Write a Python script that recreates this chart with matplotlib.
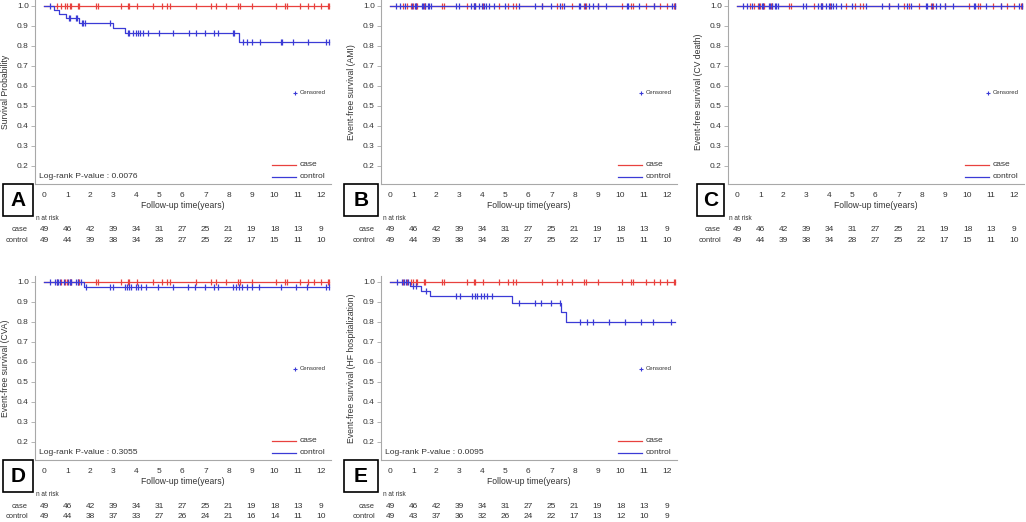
import numpy as np
import matplotlib
matplotlib.use("Agg")
import matplotlib.pyplot as plt
from matplotlib.patches import Rectangle
from matplotlib.transforms import blended_transform_factory

plt.rcParams['font.family'] = ['Liberation Sans', 'DejaVu Sans']

W, H = 1026, 522
RED = '#E8413E'
BLUE = '#3B3BD6'
SPINE = '#A8A8A8'
TXT = '#333333'

# ---- data ----
years = list(range(13))
case_risk = [49, 46, 42, 39, 34, 31, 27, 25, 21, 19, 18, 13, 9]
ctrl_risk_abc = [49, 44, 39, 38, 34, 28, 27, 25, 22, 17, 15, 11, 10]
ctrl_risk_d = [49, 44, 38, 37, 33, 27, 26, 24, 21, 16, 14, 11, 10]
ctrl_risk_e = [49, 43, 37, 36, 32, 26, 24, 22, 17, 13, 12, 10, 9]

case_cens = [0.55, 0.72, 0.9, 1.0, 1.1, 1.17, 1.45, 1.53, 2.25, 2.33, 3.35, 3.62,
             3.67, 4.02, 4.73, 5.11, 5.33, 5.44, 6.6, 7.25, 7.47, 7.88, 8.43, 8.48,
             9.01, 10.05, 10.47, 10.56, 11.1, 11.47, 11.73, 12.0, 12.3, 12.36]

# A: all-cause survival
ctrl_evt_a = [0.41, 0.64, 0.93, 1.52, 2.98, 3.5, 8.47]
ctrl_surv_a = [0.98, 0.959, 0.938, 0.915, 0.89, 0.866, 0.822]
ctrl_cens_a = [0.23, 1.07, 1.14, 1.36, 1.42, 1.62, 1.7, 1.77, 2.87, 3.62, 3.68,
               3.85, 4.0, 4.06, 4.17, 4.3, 4.5, 5.0, 5.6, 6.28, 6.57, 7.0, 7.36,
               7.55, 8.18, 8.24, 8.62, 8.8, 9.02, 9.35, 10.27, 10.33, 10.8, 11.45,
               12.24, 12.35]

# B, C: no events in control
ctrl_cens_bc = [0.23, 0.41, 0.64, 0.93, 1.07, 1.14, 1.36, 1.42, 1.52, 1.62, 1.7,
                1.77, 2.87, 2.98, 3.5, 3.62, 3.68, 3.85, 4.0, 4.06, 4.17, 4.3, 4.5,
                5.0, 5.6, 6.28, 6.57, 7.0, 7.36, 7.55, 8.18, 8.24, 8.47, 8.62, 8.8,
                9.02, 9.35, 10.27, 10.33, 10.8, 11.45, 12.24, 12.35]

# D: CVA
ctrl_evt_d = [1.74]
ctrl_surv_d = [0.975]
ctrl_cens_d = [0.23, 0.45, 0.55, 0.62, 0.69, 0.88, 1.03, 1.1, 1.17, 1.36, 1.46, 1.6,
               1.82, 2.85, 2.98, 3.5, 3.6, 3.67, 3.78, 3.99, 4.09, 4.2, 4.43, 4.94,
               5.58, 6.24, 6.53, 6.97, 7.38, 7.53, 8.18, 8.32, 8.47, 8.6, 8.82, 9.04,
               9.34, 10.27, 10.92, 11.42, 12.22, 12.36]

# E: HF hospitalization
ctrl_evt_e = [0.86, 1.35, 1.71, 5.29, 7.4, 7.62]
ctrl_surv_e = [0.979, 0.956, 0.932, 0.894, 0.851, 0.801]
ctrl_cens_e = [0.29, 0.52, 0.62, 0.69, 0.76, 0.98, 1.12, 1.56, 2.86, 3.04, 3.54,
               3.67, 3.76, 3.93, 4.06, 4.22, 4.44, 5.6, 6.27, 6.56, 6.98, 7.35,
               8.22, 8.54, 8.8, 9.5, 10.2, 10.9, 11.4, 12.18]

END = 12.36


def fx(x):
    return x / W


def fy(y):
    return 1 - y / H


def km(ax, evt, surv, cens, color):
    xs = [0.0] + list(evt) + [END]
    ys = [1.0] + list(surv) + [surv[-1] if surv else 1.0]
    ax.step(xs, ys, where='post', color=color, lw=0.9)
    idx = np.searchsorted(np.array(evt), np.array(cens), side='right')
    cy = np.array([1.0] + list(surv))[idx]
    ax.plot(cens, cy, ls='none', marker='|', ms=4, mew=0.9, color=color)


fig = plt.figure(figsize=(W / 100, H / 100), dpi=100)

# (left px, top px, letter, box left, box right, ylabel, curves, pval, ctrl risk, table label right)
panels = [
    (35, 0, 'A', 3, 33, 'Survival Probability', (ctrl_evt_a, ctrl_surv_a, ctrl_cens_a),
     'Log-rank P-value : 0.0076', ctrl_risk_abc, 28),
    (381, 0, 'B', 344, 378, 'Event-free survival (AMI)', ([], [], ctrl_cens_bc),
     None, ctrl_risk_abc, 375),
    (728, 0, 'C', 697, 724, 'Event-free survival (CV death)', ([], [], ctrl_cens_bc),
     None, ctrl_risk_abc, 721),
    (35, 276, 'D', 3, 33, 'Event-free survival (CVA)', (ctrl_evt_d, ctrl_surv_d, ctrl_cens_d),
     'Log-rank P-value : 0.3055', ctrl_risk_d, 28),
    (381, 276, 'E', 344, 378, 'Event-free survival (HF hospitalization)',
     (ctrl_evt_e, ctrl_surv_e, ctrl_cens_e), 'Log-rank P-value : 0.0095', ctrl_risk_e, 375),
]

AW, AH = 296, 184

for (left, top, letter, bl, br, ylab, ctrl, pval, crisk, lab_r) in panels:
    ax = fig.add_axes([fx(left), fy(top + AH), AW / W, AH / H])
    ax.set_xlim(-0.4, 12.45)
    ax.set_ylim(0.11, 1.03)
    for s in ['top', 'right']:
        ax.spines[s].set_visible(False)
    for s in ['left', 'bottom']:
        ax.spines[s].set_color(SPINE)
        ax.spines[s].set_linewidth(0.8)
    ax.set_xticks(years)
    ax.set_yticks([0.2, 0.3, 0.4, 0.5, 0.6, 0.7, 0.8, 0.9, 1.0])
    ax.set_yticklabels(['%.1f' % v for v in [0.2, 0.3, 0.4, 0.5, 0.6, 0.7, 0.8, 0.9, 1.0]])
    ax.tick_params(axis='y', length=3, width=0.6, color=SPINE, labelsize=6, pad=1.5,
                   labelcolor=TXT)
    ax.tick_params(axis='x', length=0, labelsize=6, pad=6, labelcolor=TXT)
    ax.patch.set_alpha(0)

    km(ax, [], [], case_cens, RED)
    km(ax, ctrl[0], ctrl[1], ctrl[2], BLUE)

    ax.set_ylabel(ylab, fontsize=6.2, color=TXT)
    ax.yaxis.set_label_coords(-0.085, 0.5)
    ax.set_xlabel('Follow-up time(years)', fontsize=6.2, color=TXT)
    ax.xaxis.set_label_coords(0.5, -0.095)

    # legend
    tr = ax.transAxes
    x0 = (AW - 59) / AW
    x1 = (AW - 35) / AW
    xt = (AW - 31) / AW
    for yy, c, lab in [(165, RED, 'case'), (177, BLUE, 'control')]:
        ya = (AH - yy) / AH
        ax.plot([x0, x1], [ya, ya], color=c, lw=0.9, transform=tr, clip_on=False)
        ax.text(xt, ya, lab, fontsize=6, color=TXT, ha='left', va='center', transform=tr)
    ya = (AH - 93) / AH
    ax.plot([(AW - 36) / AW], [ya], marker='+', ms=3, mew=0.8, color=BLUE,
            transform=tr, clip_on=False)
    ax.text(xt, ya, 'Censored', fontsize=4.3, color=TXT, ha='left', va='center', transform=tr)

    if pval:
        ax.text(4 / AW, (AH - 177) / AH, pval, fontsize=6.1, color=TXT,
                ha='left', va='center', transform=tr)

    # number at risk table
    bt = blended_transform_factory(ax.transData, fig.transFigure)
    for i, yr in enumerate(years):
        ax.text(yr, fy(top + 230), str(case_risk[i]), fontsize=6, color=TXT,
                ha='center', va='center', transform=bt, clip_on=False)
        ax.text(yr, fy(top + 241), str(crisk[i]), fontsize=6, color=TXT,
                ha='center', va='center', transform=bt, clip_on=False)
    fig.text(fx(lab_r + 8), fy(top + 218), 'n at risk', fontsize=4.7, color=TXT,
             ha='left', va='center')
    fig.text(fx(lab_r), fy(top + 230), 'case', fontsize=5.4, color=TXT,
             ha='right', va='center')
    fig.text(fx(lab_r), fy(top + 241), 'control', fontsize=5.4, color=TXT,
             ha='right', va='center')

    # panel letter box
    fig.add_artist(Rectangle((fx(bl), fy(top + 216)), (br - bl) / W, 32 / H,
                             transform=fig.transFigure, fill=False, ec='black', lw=1.2))
    fig.text(fx((bl + br) / 2), fy(top + 200), letter, fontsize=15, fontweight='bold',
             ha='center', va='center', color='black')

fig.savefig('out.png', dpi=100)
